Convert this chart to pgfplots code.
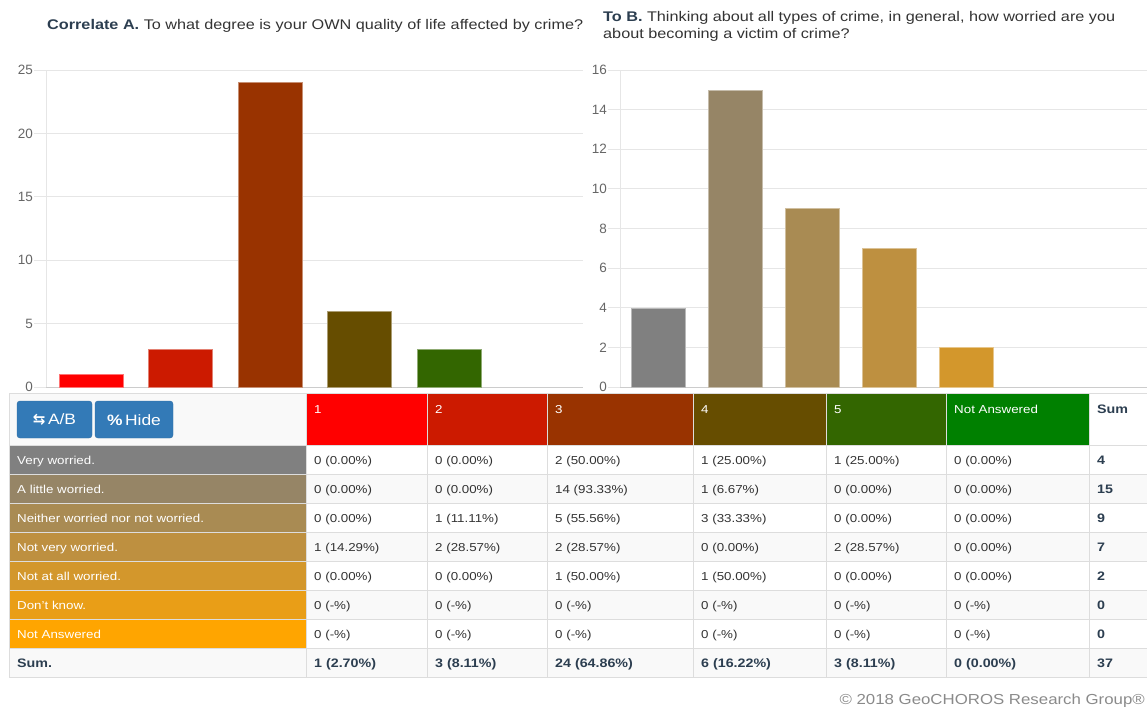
\documentclass[border=0pt]{standalone}
\usepackage{pgfplots}
\pgfplotsset{compat=1.18}
\usepackage{fontspec}
\setmainfont[FakeStretch=1.16]{Liberation Sans}
\newfontfamily\plainfont{Liberation Sans}
\newfontfamily\dejavu{DejaVu Sans}
\definecolor{c1}{HTML}{FF0000}
\definecolor{c2}{HTML}{CC1A00}
\definecolor{c3}{HTML}{993300}
\definecolor{c4}{HTML}{664D00}
\definecolor{c5}{HTML}{336600}
\definecolor{c6}{HTML}{008000}
\definecolor{r1}{HTML}{808080}
\definecolor{r2}{HTML}{968566}
\definecolor{r3}{HTML}{A98B53}
\definecolor{r4}{HTML}{BE9040}
\definecolor{r5}{HTML}{D3972C}
\definecolor{r6}{HTML}{E99E17}
\definecolor{r7}{HTML}{FFA500}
\definecolor{gridc}{HTML}{E6E6E6}
\definecolor{basec}{HTML}{CCCCCC}
\definecolor{tickc}{HTML}{666666}
\definecolor{bordc}{HTML}{DDDDDD}
\definecolor{stripe}{HTML}{F9F9F9}
\definecolor{titc}{HTML}{333333}
\definecolor{darkc}{HTML}{2C3E50}
\definecolor{btn}{HTML}{337AB7}
\definecolor{btnb}{HTML}{2E6DA4}
\definecolor{footc}{HTML}{8A8A8A}

\pgfplotsset{
 barchart/.style={
  scale only axis,
  ybar, bar shift=0pt,
  ymin=0,
  axis x line*=bottom, axis y line*=left,
  xtick=\empty,
  ymajorgrids, grid style={gridc, line width=0.8pt},
  x axis line style={basec, line width=0.8pt},
  y axis line style={gridc, line width=0.8pt},
  ytick style={gridc, line width=0.8pt},
  major tick length=12pt, tick align=outside,
  yticklabel style={font=\plainfont\fontsize{13.5}{15}\selectfont, text=tickc, /pgf/number format/assume math mode=true, inner xsep=1pt},
 }
}

\newcommand\tabfont{\fontsize{11.5}{13}\selectfont}
\newcommand\sumfont{\fontsize{12.3}{14}\selectfont\bfseries}
% row: index, label, six cells, sum
\newcommand\row[9]{%
 \pgfmathsetmacro\rtop{445+29*(#1-1)}%
 \pgfmathsetmacro\rbot{\rtop+29}%
 \pgfmathsetmacro\rbase{\rtop+19}%
 \ifodd#1\relax\else\fill[stripe] (306,\rtop) rectangle (1147,\rbot);\fi
 \fill[r#1] (9,\rtop) rectangle (306,\rbot);
 \node[anchor=base west, text=white, font=\tabfont, inner sep=0pt] at (17,\rbase) {#2};
 \node[anchor=base west, text=titc, font=\tabfont, inner sep=0pt] at (314,\rbase) {#3};
 \node[anchor=base west, text=titc, font=\tabfont, inner sep=0pt] at (435,\rbase) {#4};
 \node[anchor=base west, text=titc, font=\tabfont, inner sep=0pt] at (555,\rbase) {#5};
 \node[anchor=base west, text=titc, font=\tabfont, inner sep=0pt] at (701,\rbase) {#6};
 \node[anchor=base west, text=titc, font=\tabfont, inner sep=0pt] at (834,\rbase) {#7};
 \node[anchor=base west, text=titc, font=\tabfont, inner sep=0pt] at (954,\rbase) {#8};
 \node[anchor=base west, text=darkc, font=\sumfont, inner sep=0pt] at (1097,\rbase) {#9};
}

\begin{document}
\begin{tikzpicture}
% ---------- left chart ----------
\begin{axis}[barchart, at={(46pt,-387pt)}, anchor=south west,
  width=537pt, height=317pt, xmin=-0.5, xmax=5.5, ymax=25,
  ytick={0,5,...,25}, bar width=64pt]
\addplot[fill=c1, draw=c1!55!white] coordinates {(0,1)};
\addplot[fill=c2, draw=c2!55!white] coordinates {(1,3)};
\addplot[fill=c3, draw=c3!55!white] coordinates {(2,24)};
\addplot[fill=c4, draw=c4!55!white] coordinates {(3,6)};
\addplot[fill=c5, draw=c5!55!white] coordinates {(4,3)};
\end{axis}
% ---------- right chart ----------
\begin{axis}[barchart, at={(620pt,-387pt)}, anchor=south west,
  width=527pt, height=317pt, xmin=-0.5, xmax=6.344, ymax=16,
  ytick={0,2,...,16}, bar width=54pt]
\addplot[fill=r1, draw=r1!55!white] coordinates {(0,4)};
\addplot[fill=r2, draw=r2!55!white] coordinates {(1,15)};
\addplot[fill=r3, draw=r3!55!white] coordinates {(2,9)};
\addplot[fill=r4, draw=r4!55!white] coordinates {(3,7)};
\addplot[fill=r5, draw=r5!55!white] coordinates {(4,2)};
\end{axis}

\begin{scope}[x=1pt,y=-1pt]
% titles
\node[anchor=base west, font=\fontsize{14}{16}\selectfont, text=titc, inner sep=0pt] at (47,29)
  {\makebox[536pt][s]{\textcolor{darkc}{\textbf{Correlate A.}} To what degree is your OWN quality of life affected by crime?}};
\node[anchor=base west, font=\fontsize{14}{16}\selectfont, text=titc, inner sep=0pt] at (603,21)
  {\makebox[512pt][s]{\textcolor{darkc}{\textbf{To B.}} Thinking about all types of crime, in general, how worried are you}};
\node[anchor=base west, font=\fontsize{14}{16}\selectfont, text=titc, inner sep=0pt] at (603,38)
  {about becoming a victim of crime?};

% ---------- table ----------
\fill[stripe] (9,393) rectangle (306,445);
\fill[c1] (306,393) rectangle (427,445);
\fill[c2] (427,393) rectangle (547,445);
\fill[c3] (547,393) rectangle (693,445);
\fill[c4] (693,393) rectangle (826,445);
\fill[c5] (826,393) rectangle (946,445);
\fill[c6] (946,393) rectangle (1089,445);
\foreach \x/\t in {306/1, 427/2, 547/3, 693/4, 826/5, 946/Not Answered}
  \node[anchor=base west, text=white, font=\tabfont, inner sep=0pt] at (\x+8,413) {\t};
\node[anchor=base west, text=darkc, font=\sumfont, inner sep=0pt] at (1097,413) {Sum};

% buttons
\filldraw[fill=btn, draw=btnb, rounded corners=3pt] (17,401) rectangle (92,438);
\filldraw[fill=btn, draw=btnb, rounded corners=3pt] (95,401) rectangle (173,438);
\node[text=white, font=\fontsize{15}{17}\selectfont, inner sep=0pt] at (54.5,420) {{\dejavu\bfseries ⇆}\,A/B};
\node[text=white, font=\fontsize{15}{17}\selectfont, inner sep=0pt] at (134,420) {{\bfseries\%}\,Hide};

\row{1}{Very worried.}{0 (0.00\%)}{0 (0.00\%)}{2 (50.00\%)}{1 (25.00\%)}{1 (25.00\%)}{0 (0.00\%)}{4}
\row{2}{A little worried.}{0 (0.00\%)}{0 (0.00\%)}{14 (93.33\%)}{1 (6.67\%)}{0 (0.00\%)}{0 (0.00\%)}{15}
\row{3}{Neither worried nor not worried.}{0 (0.00\%)}{1 (11.11\%)}{5 (55.56\%)}{3 (33.33\%)}{0 (0.00\%)}{0 (0.00\%)}{9}
\row{4}{Not very worried.}{1 (14.29\%)}{2 (28.57\%)}{2 (28.57\%)}{0 (0.00\%)}{2 (28.57\%)}{0 (0.00\%)}{7}
\row{5}{Not at all worried.}{0 (0.00\%)}{0 (0.00\%)}{1 (50.00\%)}{1 (50.00\%)}{0 (0.00\%)}{0 (0.00\%)}{2}
\row{6}{Don't know.}{0 (-\%)}{0 (-\%)}{0 (-\%)}{0 (-\%)}{0 (-\%)}{0 (-\%)}{0}
\row{7}{Not Answered}{0 (-\%)}{0 (-\%)}{0 (-\%)}{0 (-\%)}{0 (-\%)}{0 (-\%)}{0}

% sum row
\fill[stripe] (9,648) rectangle (1147,677);
\foreach \x/\t in {17/Sum., 314/1 (2.70\%), 435/3 (8.11\%), 555/24 (64.86\%), 701/6 (16.22\%), 834/3 (8.11\%), 954/0 (0.00\%), 1097/37}
  \node[anchor=base west, text=darkc, font=\sumfont, inner sep=0pt] at (\x,667) {\t};

% borders
\foreach \y in {393,445,474,503,532,561,590,619,648,677}
  \draw[bordc, line width=0.8pt] (9,\y) -- (1147,\y);
\foreach \x in {9,306,427,547,693,826,946,1089}
  \draw[bordc, line width=0.8pt] (\x,393) -- (\x,677);

% footer
\node[anchor=base east, text=footc, font=\fontsize{14.5}{16}\selectfont, inner sep=0pt] at (1145,704)
  {© 2018 GeoCHOROS Research Group®};
\end{scope}
\pgfresetboundingbox
\useasboundingbox (0,0) rectangle (1147pt,-707pt);
\end{tikzpicture}
\end{document}
